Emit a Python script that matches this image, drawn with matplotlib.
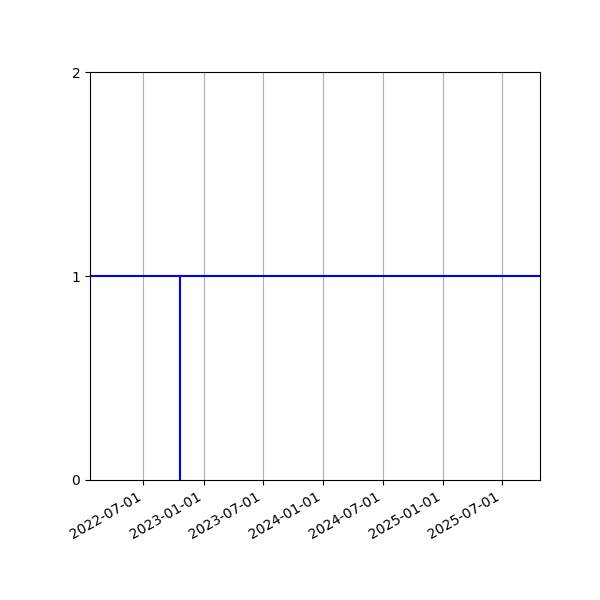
import numpy as np
import matplotlib
matplotlib.use('Agg')
import matplotlib.pyplot as plt
import matplotlib.dates as mdates

# x range of the plot
start = np.datetime64('2022-01-19')
end = np.datetime64('2025-10-25')
# date of the drop
event = np.datetime64('2022-10-21')
level = 1
yticks = [0, 1, 2]

fig = plt.figure(figsize=(6, 6), dpi=100)
ax = fig.add_subplot(111)

ax.plot([start, end], [level, level], color='b', lw=1.5)
ax.plot([event, event], [0, level], color='b', lw=1.5)

ax.set_xlim(start, end)
ax.set_ylim(0, 2)
ax.set_yticks(yticks)
ax.xaxis.set_major_locator(mdates.MonthLocator(bymonth=[1, 7]))
ax.xaxis.set_major_formatter(mdates.DateFormatter('%Y-%m-%d'))
ax.grid(axis='x')
fig.autofmt_xdate()
fig.subplots_adjust(left=0.15, right=0.9, top=0.88, bottom=0.2)

fig.savefig('out.png')
